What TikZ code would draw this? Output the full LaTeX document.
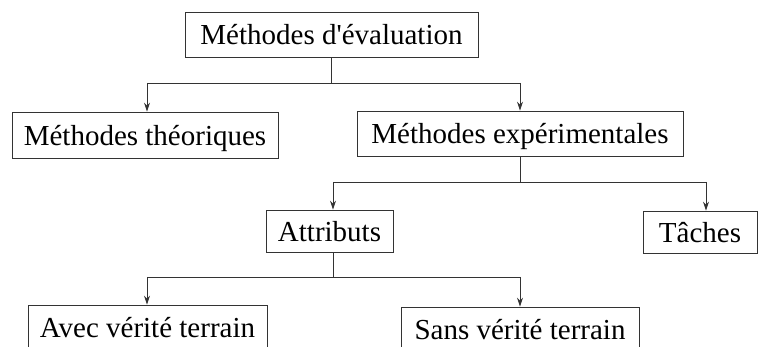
\documentclass[tikz,border=0pt]{standalone}
\usepackage{fontspec}
\setmainfont{Liberation Serif}
\usetikzlibrary{arrows.meta}
\begin{document}
\begin{tikzpicture}[x=1pt,y=1pt,
  box/.style={draw=black!80, line width=0.8pt, fill=white, inner sep=0pt,
    font=\fontsize{29}{32}\selectfont, text height=24pt, text depth=3pt},
  conn/.style={draw=black!80, line width=0.9pt},
  arr/.style={conn, -{Stealth[length=9pt,width=6pt]}}]
\useasboundingbox (0,0) rectangle (758,-347);
\node[box, minimum width=293pt, minimum height=45pt] (top) at (331.5,-34.5) {Méthodes d\textquotesingle évaluation};
\node[box, minimum width=266pt, minimum height=46pt] (mt) at (145,-135) {Méthodes théoriques};
\node[box, minimum width=326pt, minimum height=45pt] (me) at (520,-133.5) {Méthodes expérimentales};
\node[box, minimum width=127pt, minimum height=42pt] (att) at (329.5,-231) {Attributs};
\node[box, minimum width=114pt, minimum height=42pt] (tac) at (700,-232) {Tâches};
\node[box, minimum width=239pt, minimum height=45pt] (avec) at (147.5,-327.5) {Avec vérité terrain};
\node[box, minimum width=238pt, minimum height=45pt] (sans) at (520,-329.5) {Sans vérité terrain};
\coordinate (aL) at (147,-83);
\coordinate (aR) at (520,-83);
\coordinate (bL) at (333,-182);
\coordinate (bR) at (706,-182);
\coordinate (cL) at (147,-277);
\coordinate (cR) at (520,-277);
\draw[conn] (top.south) -- (top.south |- aL);
\draw[conn] (aL) -- (aR);
\draw[arr] (aL) -- (aL |- mt.north);
\draw[arr] (aR) -- (aR |- me.north);
\draw[conn] (me.south) -- (me.south |- bL);
\draw[conn] (bL) -- (bR);
\draw[arr] (bL) -- (bL |- att.north);
\draw[arr] (bR) -- (bR |- tac.north);
\draw[conn] (att.south -| bL) -- (cL -| bL);
\draw[conn] (cL) -- (cR);
\draw[arr] (cL) -- (cL |- avec.north);
\draw[arr] (cR) -- (cR |- sans.north);
\end{tikzpicture}
\end{document}
